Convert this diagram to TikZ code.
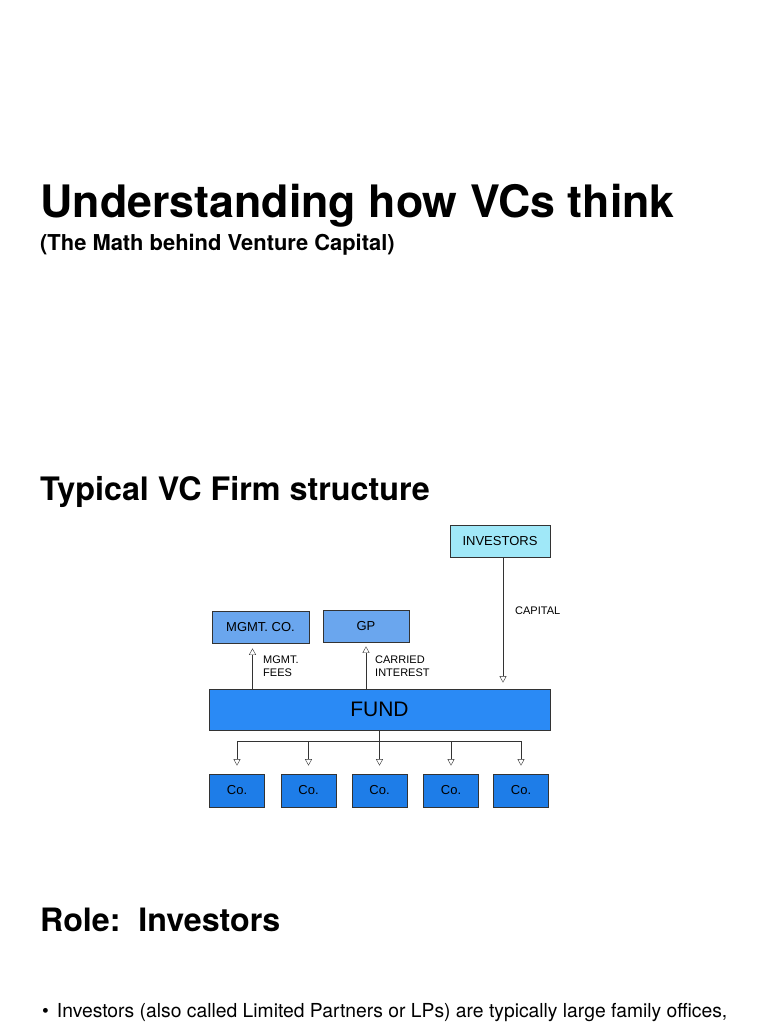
\documentclass[tikz,border=0pt]{standalone}
\usepackage{fontspec}
\setmainfont{TeX Gyre Heros}
\newfontfamily\handfont{Liberation Sans}
\usetikzlibrary{arrows.meta}
\definecolor{invcyan}{RGB}{160,232,248}
\definecolor{mgmtblue}{RGB}{106,166,238}
\definecolor{fundblue}{RGB}{42,138,245}
\definecolor{coblue}{RGB}{30,125,232}

\begin{document}
\begin{tikzpicture}[x=1pt, y=-1pt,
  box/.style={rectangle, draw=black!80, thick, inner sep=0pt, font=\handfont\fontsize{13}{15}\selectfont},
  flow/.style={draw=black!80, thin, -{Triangle[open, length=6.5pt, width=7pt]}},
  note/.style={font=\handfont\fontsize{11}{13.5}\selectfont, align=left, anchor=west, inner sep=0pt}]
\useasboundingbox (0,0) rectangle (768,1024);

% Titles
\node[anchor=base west, inner sep=0pt, font=\bfseries\fontsize{44.7}{50}\selectfont] (title) at (40,218) {Understanding how VCs think};
\node[anchor=base west, inner sep=0pt, font=\bfseries\fontsize{21.9}{24}\selectfont] (subtitle) at (40,251) {(The Math behind Venture Capital)};
\node[anchor=base west, inner sep=0pt, font=\bfseries\fontsize{32.3}{36}\selectfont] (structure) at (40,500) {Typical VC Firm structure};

% Firm structure
\node[box, fill=invcyan, minimum width=100, minimum height=32] (investors) at (500,541) {INVESTORS};
\node[box, fill=mgmtblue, minimum width=97, minimum height=32] (mgmt) at (260.5,627) {MGMT. CO.};
\node[box, fill=mgmtblue, minimum width=86, minimum height=32] (gp) at (366,626) {GP};
\node[box, fill=fundblue, minimum width=341, minimum height=41, font=\handfont\fontsize{21}{24}\selectfont] (fund) at (379.5,709.5) {FUND};

\node[box, fill=coblue, minimum width=55, minimum height=33] (co1) at (237,790.5) {Co.};
\node[box, fill=coblue, minimum width=55, minimum height=33] (co2) at (308.5,790.5) {Co.};
\node[box, fill=coblue, minimum width=55, minimum height=33] (co3) at (379.5,790.5) {Co.};
\node[box, fill=coblue, minimum width=55, minimum height=33] (co4) at (451,790.5) {Co.};
\node[box, fill=coblue, minimum width=55, minimum height=33] (co5) at (521,790.5) {Co.};

% Money flows
\draw[flow, shorten >=5pt] ([xshift=-8]fund.north -| mgmt.south) -- ([xshift=-8]mgmt.south);
\node[note] (fees) at (263,666) {MGMT.\\FEES};
\draw[flow, shorten >=4pt] (fund.north -| gp.south) -- (gp.south);
\node[note] (carry) at (375,666) {CARRIED\\INTEREST};
\draw[flow, shorten >=6pt] ([xshift=3]investors.south) -- ([xshift=3]investors.south |- fund.north);
\node[note] (capital) at (515,611) {CAPITAL};

\draw[draw=black!80, thin] (fund.south) -- ++(0,11) coordinate (split);
\draw[draw=black!80, thin] (split -| co1.north) -- (split -| co5.north);
\draw[flow, shorten >=8pt] (split -| co1.north) -- (co1.north);
\draw[flow, shorten >=8pt] (split -| co2.north) -- (co2.north);
\draw[flow, shorten >=8pt] (split) -- (co3.north);
\draw[flow, shorten >=8pt] (split -| co4.north) -- (co4.north);
\draw[flow, shorten >=8pt] (split -| co5.north) -- (co5.north);

% Role section
\node[anchor=base west, inner sep=0pt, font=\bfseries\fontsize{32.2}{36}\selectfont] (role) at (40,931) {Role:\ \ Investors};
\node[anchor=base west, inner sep=0pt, font=\fontsize{19.3}{23}\selectfont] (bullet) at (42,1017) {\textbullet\hspace{8pt}Investors (also called Limited Partners or LPs) are typically large family offices,};
\end{tikzpicture}
\end{document}
